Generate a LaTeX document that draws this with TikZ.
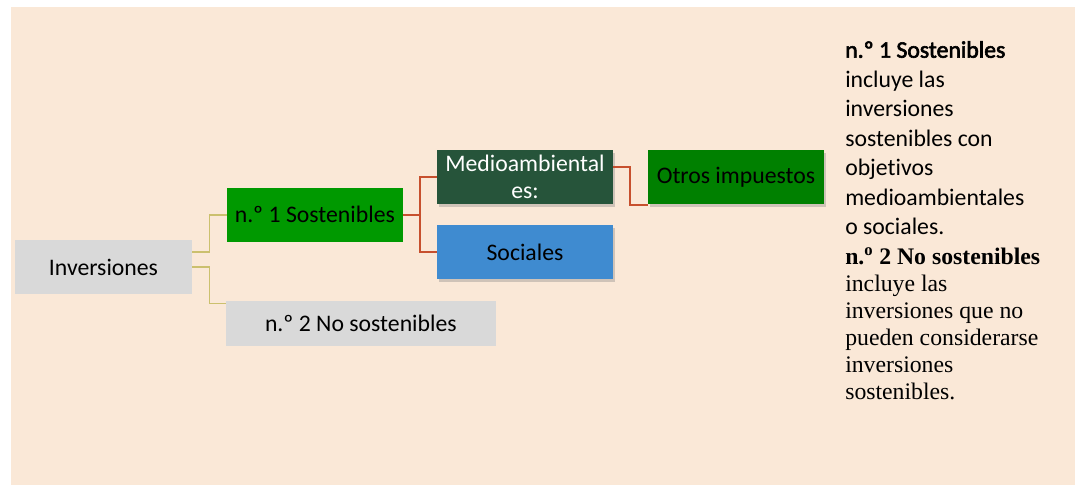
\documentclass[tikz,border=0pt]{standalone}
\usepackage{fontspec}
\setmainfont{Carlito}[Ligatures=NoCommon]
\newfontfamily\negrita{Carlito}[FakeBold=2.5,Ligatures=NoCommon]
\newfontfamily\tnr{Liberation Serif}
\usetikzlibrary{shadows}
\definecolor{fondo}{HTML}{FAE8D7}
\definecolor{gris}{HTML}{D9D9D9}
\definecolor{verde}{HTML}{009900}
\definecolor{verdeosc}{HTML}{26543A}
\definecolor{azul}{HTML}{3F8BD0}
\definecolor{verdeotro}{HTML}{008000}
\definecolor{lineaam}{HTML}{CBC06E}
\definecolor{linearo}{HTML}{C7502E}

\begin{document}
\begin{tikzpicture}[x=0.75pt,y=-0.75pt,
  caja/.style={inner sep=0pt,minimum width=132pt,minimum height=40.5pt,
    font=\fontsize{17.8}{20.5}\selectfont},
  sombra/.style={drop shadow={shadow xshift=1.5pt,shadow yshift=-2.25pt,opacity=.35}},
  ramaA/.style={draw=lineaam,line width=1pt},
  ramaB/.style={draw=linearo,line width=1.6pt},
  linea/.style={anchor=base west,inner sep=0pt,font=\fontsize{17.8}{20}\selectfont}]
  \fill[white] (0,0) rectangle (1079,485);
  \fill[fondo] (11,7) rectangle (1075,485);

  \node[caja,fill=gris,minimum width=132.75pt] (inv) at (103.5,267){Inversiones};
  \node[caja,fill=verde,minimum width=131.8pt,minimum height=40.3pt] (sost1) at (314.85,214.85){n.º 1 Sostenibles};
  \node[caja,fill=gris,minimum width=202.3pt,minimum height=33.5pt] (nosost) at (360.85,323.35){n.º 2 No sostenibles};
  \node[caja,sombra,fill=verdeosc,text=white,align=center] (medio) at (525,177){Medioambiental\\es:};
  \node[caja,sombra,fill=azul] (soc) at (525,252){Sociales};
  \node[caja,sombra,fill=verdeotro] (otros) at (736,177){Otros impuestos};

  \draw[ramaA] ([yshift=11.25pt]inv.east) -- ++(17.3,0) |- (sost1.west);
  \draw[ramaA] (inv.east) -- ++(17.3,0) |- ([yshift=-2.25pt]nosost.north west);
  \draw[ramaB] (sost1.east) -- ++(16.6,0) |- (medio.west);
  \draw[ramaB] (sost1.east) -- ++(16.6,0) |- (soc.west);
  \draw[ramaB] ([yshift=7.3pt]medio.east) -- ++(17,0) |- ([yshift=-0.75pt]otros.south west);

  \node[linea] (t1) at (845,57.7){\negrita n.º 1 Sostenibles};
  \foreach \txt [count=\i] in {incluye las,inversiones,sostenibles con,objetivos,medioambientales,o sociales.}
    \node[linea] (t1-\i) at (845,57.7+29.5*\i){\txt};
  \node[linea] (t2) at (845,264.3){\tnr\bfseries n.\textsuperscript{o} 2 No sostenibles};
  \foreach \txt [count=\i] in {incluye las,inversiones que no,pueden considerarse,inversiones,sostenibles.}
    \node[linea] (t2-\i) at (845,264.3+27*\i){\tnr\txt};
\end{tikzpicture}
\end{document}
